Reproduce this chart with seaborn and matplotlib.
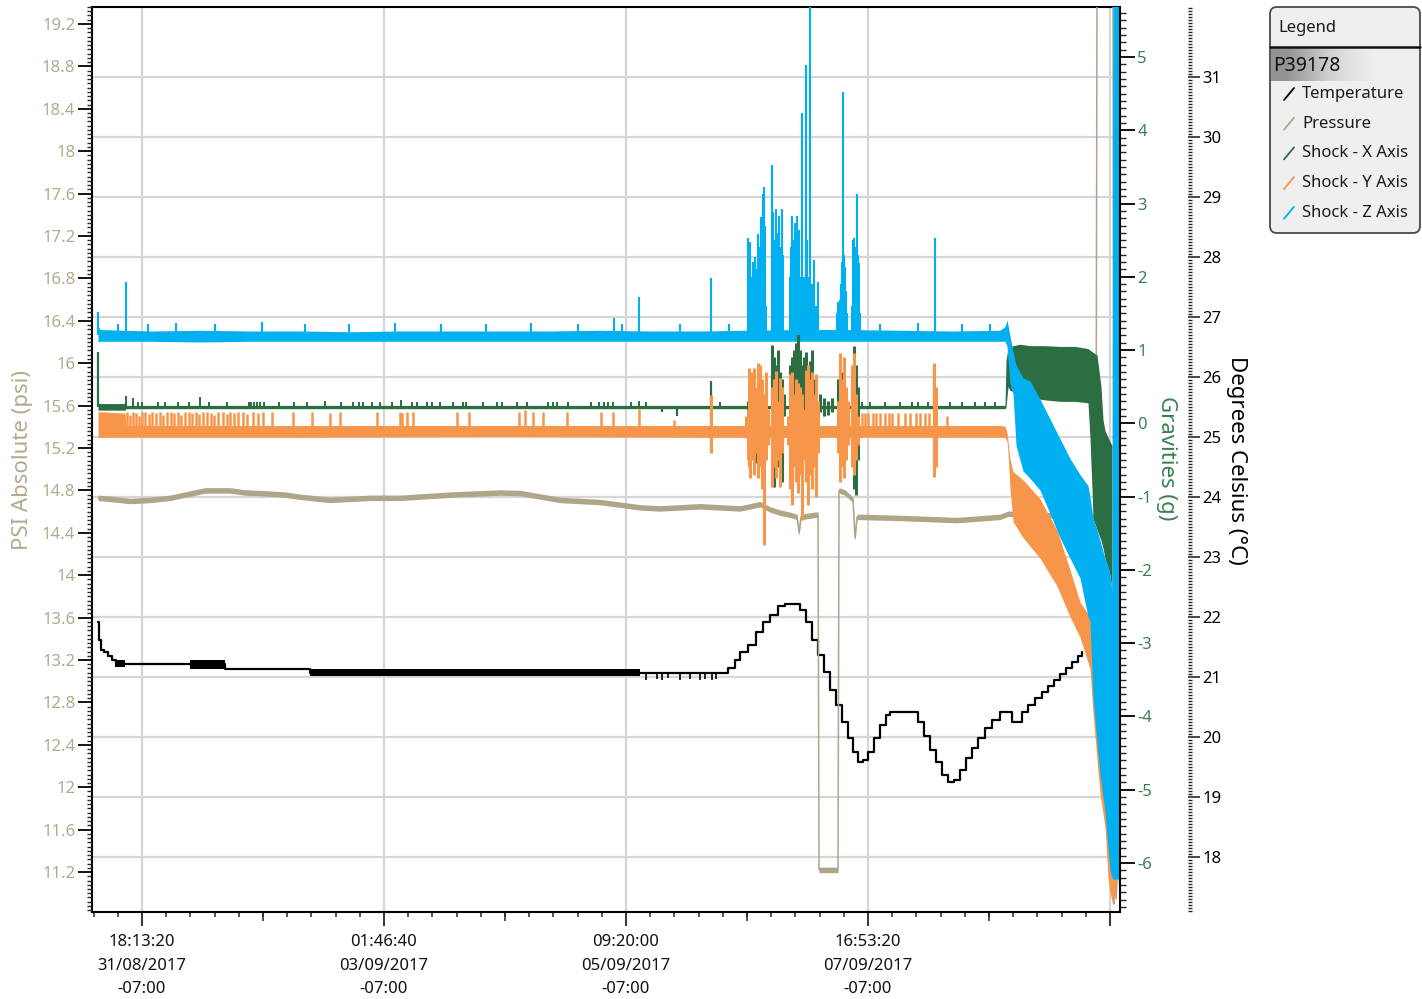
import datetime as dt
import numpy as np
import matplotlib
matplotlib.use("Agg")
import matplotlib.pyplot as plt
import matplotlib.colors as mcolors
from matplotlib.patches import FancyBboxPatch
from matplotlib.ticker import FixedLocator, MultipleLocator, FormatStrFormatter
import seaborn as sns

sns.set_theme(style="ticks")
plt.rcParams["font.family"] = ["Noto Sans", "DejaVu Sans"]
plt.rcParams["axes.unicode_minus"] = False

# ------------------------------------------------------------------ data
# time axis: hours since 2017-08-31 18:13:20 (-07:00)
SERIES = ["Temperature", "Pressure", "Shock - X Axis", "Shock - Y Axis", "Shock - Z Axis"]
COLORS = ["#000000", "#afa588", "#2a6e42", "#f7964a", "#00b0f0"]
LOGGER = "P39178"

# Temperature (deg C)
temp_t = [-10.10, -9.87, -9.41, -8.72, -7.81, -6.89, -5.97, 19.06, 38.57, 132.71, 134.55,
          136.15, 137.30, 139.14, 140.98, 142.58, 144.19, 146.02, 147.63, 149.93, 151.08,
          152.45, 153.83, 155.21, 156.59, 157.96, 159.34, 160.72, 162.10, 163.24, 164.39,
          165.54, 166.69, 168.07, 169.43, 170.81, 171.73, 176.78, 178.16, 179.54, 180.92,
          182.30, 183.67, 185.05, 186.43, 187.81, 189.19, 190.57, 191.95, 193.55, 195.16,
          196.99, 198.37, 199.75, 201.13, 202.04, 203.42, 205.03, 206.63, 208.01, 209.39,
          210.76, 212.14, 213.52, 214.90, 215.82]
temp_c = [21.92, 21.62, 21.45, 21.42, 21.35, 21.28, 21.22, 21.13, 21.07, 21.07, 21.15,
          21.28, 21.42, 21.53, 21.75, 21.92, 22.03, 22.18, 22.22, 22.22, 22.12,
          21.92, 21.62, 21.37, 21.08, 20.78, 20.53, 20.25, 19.98, 19.75, 19.58,
          19.62, 19.75, 19.98, 20.20, 20.37, 20.42, 20.42, 20.25, 20.02, 19.78,
          19.58, 19.37, 19.25, 19.28, 19.45, 19.65, 19.82, 19.98, 20.15, 20.28,
          20.42, 20.42, 20.25, 20.25, 20.42, 20.53, 20.65, 20.75, 20.85, 20.95,
          21.05, 21.15, 21.25, 21.35, 21.42]
temp_noise_t0 = [-6.20, 11.02, 38.57]
temp_noise_t1 = [-3.90, 19.06, 114.34]
temp_noise_lo = [21.16, 21.13, 21.01]
temp_noise_hi = [21.29, 21.28, 21.13]
temp_tick_t = [115.72, 118.24, 119.39, 120.77, 123.52, 125.82, 128.12, 129.26, 130.87, 131.79]
temp_tick_lo = [20.95, 20.97, 20.95, 20.98, 20.95, 20.96, 20.95, 20.97, 20.95, 20.96]

# Pressure (psi)
pres_t = [-10.10, -7.35, -2.75, 1.84, 6.43, 11.02, 14.46, 20.20, 23.65, 27.09, 32.83,
          36.28, 43.16, 52.35, 59.24, 70.72, 82.20, 86.79, 95.97, 105.16, 114.34,
          118.93, 128.12, 137.30, 141.89, 144.19, 146.48, 148.78, 150.39, 150.85, 151.31,
          154.52, 155.21, 155.44, 159.80, 160.03, 161.41, 163.24, 163.70, 164.16, 164.85,
          174.02, 187.12, 196.99, 198.83, 219.03, 219.26, 222.93, 223.16, 223.39, 223.62,
          224.08, 224.54]
pres_v = [14.73, 14.72, 14.70, 14.71, 14.73, 14.77, 14.80, 14.80, 14.78, 14.775, 14.76,
          14.74, 14.71, 14.73, 14.73, 14.76, 14.78, 14.775, 14.71, 14.69, 14.64,
          14.63, 14.65, 14.63, 14.67, 14.62, 14.59, 14.57, 14.55, 14.40, 14.55,
          14.57, 14.57, 11.22, 11.22, 14.80, 14.78, 14.71, 14.35, 14.55, 14.55,
          14.54, 14.52, 14.55, 14.58, 14.55, 19.60, 19.60, 10.90, 11.25, 10.95,
          11.30, 11.05]
PRES_NOISE = 0.026

# Shock - X Axis (g)
gx_band_t = [-10.10, -3.90, -3.67, 198.14, 198.37, 198.83, 199.29, 201.58, 203.88, 207.32,
             210.76, 214.21, 217.19, 217.65, 218.11, 218.34, 219.26, 220.18, 220.64, 221.10,
             222.25, 222.70]
gx_band_lo = [0.18, 0.18, 0.20, 0.20, 0.22, 0.50, 0.45, 0.40, 0.35, 0.32,
              0.30, 0.30, 0.28, -0.20, -0.90, -1.30, -1.45, -1.60, -1.70, -1.84,
              -2.07, -2.29]
gx_band_hi = [0.27, 0.27, 0.245, 0.245, 0.86, 1.03, 1.05, 1.08, 1.06, 1.06,
              1.05, 1.05, 1.02, 1.00, 0.98, 0.97, 0.93, 0.50, 0.05, -0.10,
              -0.25, -0.30]
GX_BASE = 0.22
gx_tick_t = [-3.67, -2.07, -0.92, 0.00, 3.67, 5.28, 8.26, 10.79, 13.32, 15.38, 19.51, 24.57,
             25.02, 25.71, 26.40, 27.09, 28.01, 31.45, 34.90, 37.88, 42.02, 45.69, 48.45,
             49.83, 50.74, 52.81, 54.64, 57.40, 59.46, 61.99, 63.14, 65.44, 66.58, 68.42,
             71.41, 73.70, 74.39, 78.29, 81.51, 82.66, 86.10, 88.40, 93.22, 94.37, 95.28,
             97.81, 103.09, 104.93, 106.08, 106.99, 108.14, 112.27, 114.11, 115.72, 132.71,
             165.31, 167.15, 170.58, 174.02, 176.78, 178.16, 180.46, 185.51, 188.27, 191.26,
             193.55, 195.85]
gx_tick_hi = [0.37, 0.35, 0.29, 0.29, 0.29, 0.29, 0.29, 0.29, 0.36, 0.29, 0.29, 0.29,
              0.29, 0.29, 0.29, 0.29, 0.29, 0.29, 0.29, 0.29, 0.30, 0.29, 0.29,
              0.29, 0.29, 0.29, 0.29, 0.29, 0.32, 0.29, 0.29, 0.29, 0.29, 0.29,
              0.29, 0.29, 0.29, 0.29, 0.29, 0.29, 0.29, 0.29, 0.29, 0.29, 0.29,
              0.29, 0.29, 0.29, 0.29, 0.29, 0.29, 0.29, 0.30, 0.29, 0.29,
              0.29, 0.29, 0.29, 0.29, 0.29, 0.29, 0.29, 0.29, 0.29, 0.29,
              0.29, 0.29]
gx_event_t = [-10.10, 119.39, 122.84, 130.64, 181.84]
gx_event_lo = [0.22, 0.16, 0.10, -0.40, 0.15]
gx_event_hi = [0.97, 0.22, 0.22, 0.58, 0.73]
gx_act_t = [139.14, 139.60, 140.06, 140.52, 140.98, 141.44, 141.89, 142.35, 142.81, 143.27,
            144.65, 145.11, 145.57, 146.02, 146.48, 146.94, 147.40, 148.78, 149.24, 149.70,
            150.16, 150.62, 151.08, 151.54, 151.99, 152.45, 152.91, 153.37, 153.83, 154.29,
            154.75, 155.67, 156.59, 157.50, 158.42, 159.80, 160.26, 160.72, 161.18, 161.64,
            163.01, 163.47, 163.93, 164.39]
gx_act_lo = [-0.30, -0.54, -0.30, -0.10, -0.54, -0.40, -0.30, -0.50, -0.20, -0.10,
             -0.30, -0.87, -0.70, -0.60, -0.40, -0.80, 0.10, -0.50, -0.77, -0.40,
             -0.60, -0.77, -0.50, -0.70, -0.30, -0.75, -0.60, -0.40, -0.50, -0.30,
             0.00, 0.15, 0.10, 0.12, 0.15, -0.20, -0.40, -0.20, -0.40, 0.00,
             -0.30, -0.90, -0.98, -0.50]
gx_act_hi = [0.30, 0.20, 0.30, 0.25, 0.40, 0.30, 0.20, 0.30, 0.20, 0.35,
             1.07, 0.90, 0.80, 1.00, 0.70, 0.60, 0.40, 0.80, 0.90, 1.00,
             1.10, 1.25, 1.00, 0.80, 0.90, 0.97, 0.70, 0.85, 1.00, 0.60,
             0.40, 0.40, 0.35, 0.30, 0.35, 0.60, 0.86, 0.70, 0.50, 0.30,
             0.60, 1.05, 0.80, 0.50]

# Shock - Y Axis (g)
gy_band_t = [-10.10, -3.90, -3.67, 36.28, 82.20, 128.12, 138.45, 164.85, 196.99, 198.14,
             198.60, 198.83, 199.29, 199.98, 202.27, 206.17, 210.08, 213.06, 215.36, 217.65,
             218.34, 219.26, 219.95, 221.10, 221.79, 222.25, 222.93, 223.62, 224.08]
gy_band_lo = [-0.19, -0.19, -0.19, -0.19, -0.18, -0.19, -0.19, -0.19, -0.19, -0.19,
              -0.25, -0.40, -0.90, -1.34, -1.56, -1.84, -2.22, -2.64, -2.92, -3.35,
              -3.95, -4.59, -5.05, -5.51, -6.19, -6.41, -6.57, -6.30, -6.00]
gy_band_hi = [0.16, 0.14, -0.03, -0.03, -0.03, -0.03, -0.03, -0.03, -0.03, -0.04,
              -0.13, -0.25, -0.49, -0.66, -0.77, -1.03, -1.46, -2.00, -2.44, -2.64,
              -3.20, -3.70, -4.00, -4.60, -5.00, -5.30, -6.00, -6.10, -5.90]
gy_dense_t = [-3.44, -2.75, -2.07, -1.38, -0.69, 0.00, 0.69, 1.61, 2.30, 3.21, 4.13, 4.82,
              5.74, 6.66, 7.35, 8.26, 8.95, 9.87, 10.79, 11.48, 12.40, 13.09, 14.00, 14.92,
              15.84, 16.53, 17.45, 18.60, 19.51, 20.20, 21.12, 22.04, 23.19, 24.11, 25.48,
              26.63, 27.78, 29.85, 34.67, 39.03, 43.16, 45.46, 53.96, 59.24, 59.70, 60.84,
              62.22, 72.32, 75.08, 86.56, 87.94, 89.77, 92.07, 97.58, 105.39, 108.14,
              114.11, 122.15, 165.31, 166.00, 166.69, 167.84, 168.51, 169.43, 170.58,
              171.50, 172.19, 173.56, 175.17, 176.32, 177.70, 178.62, 179.77, 180.69, 184.82]
gy_dense_hi = [0.15, 0.12, 0.16, 0.14, 0.10, 0.15, 0.16, 0.13, 0.15, 0.14, 0.16, 0.12,
               0.15, 0.16, 0.14, 0.15, 0.11, 0.16, 0.15, 0.14, 0.16, 0.13, 0.15, 0.16,
               0.14, 0.12, 0.15, 0.16, 0.13, 0.15, 0.14, 0.16, 0.15, 0.13, 0.16,
               0.14, 0.15, 0.15, 0.16, 0.15, 0.14, 0.15, 0.15, 0.16, 0.14, 0.15,
               0.15, 0.15, 0.15, 0.15, 0.18, 0.15, 0.15, 0.15, 0.15, 0.15,
               0.20, 0.05, 0.14, 0.14, 0.14, 0.14, 0.14, 0.14, 0.14,
               0.14, 0.14, 0.14, 0.14, 0.14, 0.14, 0.14, 0.14, 0.14, 0.10]
GY_BASE = -0.12
gy_act_t = [130.64, 138.68, 139.14, 139.37, 139.60, 140.06, 140.52, 140.98, 141.44, 141.89,
            142.35, 142.81, 143.27, 143.73, 144.65, 145.11, 145.57, 146.02, 146.48, 146.94,
            148.32, 148.78, 149.24, 149.70, 150.16, 150.62, 151.08, 151.54, 151.99, 152.45,
            152.91, 153.37, 153.83, 154.29, 154.75, 155.21, 159.80, 160.26, 160.72, 161.18,
            161.64, 162.10, 163.01, 163.47, 163.93, 164.39, 181.84, 182.30]
gy_act_lo = [-0.40, -0.20, -0.50, -0.60, -0.75, -0.50, -0.70, -0.40, -0.75, -0.60,
             -0.90, -1.66, -0.50, -0.30, -0.87, -0.60, -0.75, -0.50, -0.87, -0.40,
             -0.30, -0.90, -1.11, -0.60, -0.80, -0.95, -0.70, -1.32, -0.50, -0.80,
             -1.11, -0.70, -0.90, -0.60, -1.00, -0.40, -0.40, -0.80, -0.60, -0.75,
             -0.50, -0.30, -0.60, -0.70, -0.50, -0.30, -0.73, -0.60]
gy_act_hi = [0.38, 0.10, 0.20, 0.75, 0.60, 0.70, 0.75, 0.50, 0.82, 0.80,
             0.60, 0.40, 0.70, 0.20, 0.50, 0.60, 0.72, 0.30, 0.62, 0.50,
             0.10, 0.68, 0.70, 0.40, 0.60, 0.55, 0.50, 0.40, 0.20, 0.73,
             0.80, 0.60, 0.70, 0.40, 0.68, 0.30, 0.30, 0.96, 0.60, 0.90,
             0.50, 0.30, 0.80, 0.96, 0.40, 0.10, 0.82, 0.50]

# Shock - Z Axis (g)
gz_band_t = [-10.10, -9.64, -3.90, 1.84, 13.32, 24.80, 36.28, 47.76, 59.24, 70.72, 82.20,
             93.67, 105.16, 116.64, 128.12, 138.45, 151.08, 162.56, 174.02, 185.51, 196.99,
             198.14, 198.60, 199.29, 199.98, 200.67, 202.27, 203.88, 206.17, 208.47, 210.76,
             213.06, 215.36, 217.19, 217.65, 218.11, 218.34, 219.26, 219.95, 221.10, 221.79,
             222.25, 222.70, 222.93, 224.54]
gz_band_lo = [1.11, 1.12, 1.12, 1.12, 1.11, 1.12, 1.12, 1.12, 1.12, 1.12, 1.12,
              1.12, 1.12, 1.12, 1.12, 1.12, 1.12, 1.12, 1.12, 1.12, 1.12,
              1.12, 1.05, 0.55, 0.40, -0.30, -0.65, -0.75, -0.91, -1.23, -1.56,
              -1.84, -2.11, -2.64, -2.70, -3.40, -3.75, -4.35, -4.80, -5.30, -5.80,
              -6.10, -6.20, -6.22, -6.22]
gz_band_hi = [1.33, 1.28, 1.27, 1.26, 1.27, 1.26, 1.26, 1.25, 1.26, 1.26, 1.26,
              1.26, 1.27, 1.26, 1.26, 1.27, 1.28, 1.28, 1.27, 1.26, 1.27,
              1.32, 1.41, 1.19, 0.98, 0.80, 0.62, 0.58, 0.33, 0.06, -0.21,
              -0.48, -0.70, -0.85, -1.00, -1.20, -1.30, -1.45, -1.60, -1.84, -1.95,
              -2.07, -2.29, 6.00, 6.00]
GZ_BASE = 1.20
gz_spike_t = [-10.10, -5.51, -3.67, 1.38, 7.81, 16.76, 27.55, 37.42, 47.52, 58.08, 68.64,
              78.97, 89.30, 100.09, 108.37, 110.19, 114.11, 123.51, 130.64, 134.84,
              139.14, 139.37, 139.60, 139.83, 140.06, 140.29, 140.52, 140.75, 140.98, 141.21,
              141.44, 141.66, 141.89, 142.12, 142.35, 142.58, 142.81, 143.04, 143.27,
              144.65, 144.88, 145.11, 145.34, 145.57, 145.80, 146.02, 146.25, 146.48, 146.71,
              146.94, 147.17, 148.78, 149.01, 149.24, 149.47, 149.70, 149.93, 150.16, 150.39,
              150.62, 150.85, 151.08, 151.31, 151.54, 151.77, 151.99, 152.45, 152.68, 152.91,
              153.37, 153.60, 153.83, 154.29, 154.75, 155.21, 159.57, 159.80, 160.26, 160.49,
              160.72, 160.95, 161.18, 161.41, 161.64, 161.87, 163.01, 163.24, 163.47, 163.70,
              163.93, 164.16, 164.39, 164.62, 164.85, 169.43, 178.16, 182.07, 188.27, 194.69]
gz_spike_hi = [1.52, 1.36, 1.93, 1.35, 1.37, 1.35, 1.38, 1.36, 1.35, 1.37, 1.36,
               1.35, 1.37, 1.36, 1.44, 1.35, 1.72, 1.36, 1.98, 1.35,
               2.53, 2.00, 2.48, 1.80, 2.00, 2.20, 1.90, 2.27, 2.10, 1.80,
               2.58, 2.10, 2.40, 2.82, 2.50, 3.13, 3.23, 2.70, 1.60,
               3.53, 2.88, 2.50, 2.30, 2.93, 2.00, 2.60, 2.83, 2.40, 2.20,
               2.93, 2.30, 2.00, 2.40, 2.83, 2.50, 2.20, 2.73, 2.40, 2.83,
               2.30, 2.64, 2.00, 1.90, 4.24, 1.80, 2.00, 4.89, 2.50, 2.00,
               5.90, 1.60, 1.90, 2.23, 1.60, 1.93, 1.50, 1.65, 1.68, 1.90,
               2.20, 4.52, 2.30, 2.13, 1.80, 1.50, 1.60, 2.50, 2.53, 2.40,
               2.20, 3.13, 2.30, 2.19, 1.50, 1.36, 1.37, 2.53, 1.36, 1.35]

# ------------------------------------------------------------------ layout
W, H = 1422, 999
L, R, T, B = 92, 1120, 7, 912
fig = plt.figure(figsize=(W / 100, H / 100), dpi=100)
host = fig.add_axes([L / W, 1 - B / H, (R - L) / W, (B - T) / H])
axP = host.twinx()
axG = host.twinx()

PSI_C = "#b3a98c"
G_C = "#3a8052"
GRID_C = "#d6d6d6"

host.set_xlim(-11.48, 224.54)
host.set_ylim(17.083, 32.167)
axP.set_ylim(10.823, 19.360)
axG.set_ylim(-6.669, 5.682)

host.set_axisbelow(True)
host.grid(True, which="major", axis="both", color=GRID_C, lw=1.6)

# ------------------------------------------------------------------ marks
# temperature
sns.lineplot(x=temp_t, y=temp_c, ax=host, color=COLORS[0], lw=1.6,
             drawstyle="steps-post", estimator=None, sort=False)
for t0, t1, lo, hi in zip(temp_noise_t0, temp_noise_t1, temp_noise_lo, temp_noise_hi):
    host.fill_between([t0, t1], [lo, lo], [hi, hi], color=COLORS[0], lw=0)
host.vlines(temp_tick_t, temp_tick_lo, [21.07] * len(temp_tick_t), color=COLORS[0], lw=1.2)

# pressure
pv = np.array(pres_v)
axP.fill_between(pres_t, pv - PRES_NOISE, pv + PRES_NOISE, color=COLORS[1], lw=0)
sns.lineplot(x=pres_t, y=pres_v, ax=axP, color=COLORS[1], lw=1.1, estimator=None, sort=False)

# shock X
axG.fill_between(gx_band_t, gx_band_lo, gx_band_hi, color=COLORS[2], lw=0)
axG.vlines(gx_tick_t, [GX_BASE] * len(gx_tick_t), gx_tick_hi, color=COLORS[2], lw=1.4)
axG.vlines(gx_event_t, gx_event_lo, gx_event_hi, color=COLORS[2], lw=1.6)
axG.vlines(gx_act_t, gx_act_lo, gx_act_hi, color=COLORS[2], lw=2.2)

# shock Y
axG.fill_between(gy_band_t, gy_band_lo, gy_band_hi, color=COLORS[3], lw=0)
axG.vlines(gy_dense_t, [GY_BASE] * len(gy_dense_t), gy_dense_hi, color=COLORS[3], lw=1.8)
axG.vlines(gy_act_t, gy_act_lo, gy_act_hi, color=COLORS[3], lw=2.2)

# shock Z
axG.fill_between(gz_band_t, gz_band_lo, gz_band_hi, color=COLORS[4], lw=0)
axG.vlines(gz_spike_t, [GZ_BASE] * len(gz_spike_t), gz_spike_hi, color=COLORS[4], lw=1.5)

# ------------------------------------------------------------------ axes styling
BASE_TIME = dt.datetime(2017, 8, 31, 18, 13, 20)
STEP_H = 200000 / 3600.0
major_t = [i * STEP_H for i in range(5)]
major_lbl = [(BASE_TIME + dt.timedelta(hours=h)).strftime("%H:%M:%S\n%d/%m/%Y\n-07:00")
             for h in major_t[:4]] + [""]
minor_t = [k * STEP_H / 10 for k in range(-2, 41)]
mid_t = [STEP_H / 2 + i * STEP_H for i in range(4)]

host.set_xticks(major_t)
host.set_xticklabels(major_lbl)
host.xaxis.set_minor_locator(FixedLocator(minor_t))
host.tick_params(axis="x", which="major", direction="out", length=10, width=1.3,
                 labelsize=12, labelcolor="#111111", pad=6, bottom=True, top=False)
host.tick_params(axis="x", which="minor", direction="out", length=3.6, width=1.1,
                 bottom=True, top=False)
for lab in host.get_xticklabels():
    lab.set_linespacing(1.62)
sec = host.secondary_xaxis("bottom")
sec.set_xticks(mid_t)
sec.set_xticklabels([""] * len(mid_t))
sec.tick_params(axis="x", direction="out", length=6.5, width=1.1)
sec.spines["bottom"].set_visible(False)

# Celsius axis (host, far right)
host.yaxis.tick_right()
host.yaxis.set_label_position("right")
host.spines["right"].set_position(("axes", (1188 - L) / (R - L)))
host.spines["right"].set_color("none")
for s in ["left", "top", "bottom"]:
    host.spines[s].set_color("black")
    host.spines[s].set_linewidth(1.5)
host.set_yticks(list(range(18, 32)))
host.set_yticklabels([str(v) for v in range(18, 32)])
host.yaxis.set_minor_locator(MultipleLocator(0.05))
host.tick_params(axis="y", which="major", direction="out", length=8.5, width=1.2,
                 labelsize=12, labelcolor="black", pad=2, right=True, left=False)
host.tick_params(axis="y", which="minor", direction="out", length=3, width=1.0,
                 right=True, left=False)
host.set_ylabel("Degrees Celsius (°C)", fontsize=16, color="black", rotation=270)
host.yaxis.set_label_coords((1236 - L) / (R - L), 1 - (460 - T) / (B - T))
host.yaxis.label.set(va="center", ha="center", rotation_mode="default")

# PSI axis (left)
axP.yaxis.tick_left()
axP.yaxis.set_label_position("left")
for s in axP.spines.values():
    s.set_visible(False)
axP.set_yticks([round(11.2 + 0.4 * i, 1) for i in range(21)])
axP.yaxis.set_major_formatter(FormatStrFormatter("%g"))
axP.yaxis.set_minor_locator(MultipleLocator(0.04))
axP.tick_params(axis="y", which="major", direction="out", length=10, width=1.3,
                labelsize=12, labelcolor=PSI_C, color="black", pad=2, left=True, right=False)
axP.tick_params(axis="y", which="minor", direction="out", length=3.6, width=1.0,
                left=True, right=False)
axP.set_ylabel("PSI Absolute (psi)", fontsize=16, color=PSI_C)
axP.yaxis.set_label_coords((22 - L) / (R - L), 1 - (460 - T) / (B - T))
axP.yaxis.label.set(va="center", ha="center", rotation_mode="default")

# Gravities axis (plot right edge)
for s in ["left", "top", "bottom"]:
    axG.spines[s].set_visible(False)
axG.spines["right"].set_color("black")
axG.spines["right"].set_linewidth(1.5)
axG.set_yticks(list(range(-6, 6)))
axG.yaxis.set_minor_locator(MultipleLocator(0.1))
axG.tick_params(axis="y", which="major", direction="out", length=11, width=1.3,
                labelsize=12, labelcolor=G_C, color="black", pad=1.5)
axG.tick_params(axis="y", which="minor", direction="out", length=4.5, width=1.0)
axG.set_ylabel("Gravities (g)", fontsize=16, color=G_C, rotation=270)
axG.yaxis.set_label_coords((1167 - L) / (R - L), 1 - (458 - T) / (B - T))
axG.yaxis.label.set(va="center", ha="center", rotation_mode="default")

# ------------------------------------------------------------------ legend panel
lax = fig.add_axes([0, 0, 1, 1], zorder=20)
lax.axis("off")
box = FancyBboxPatch((1270, 7), 150, 226, boxstyle="round,pad=0,rounding_size=7",
                     fc="#efefef", ec="#4a4a4a", lw=1.3, zorder=1)
lax.add_patch(box)
grad = mcolors.LinearSegmentedColormap.from_list("g", ["#939393", "#cdcdcd", "#efefef"])
lax.imshow([[0.0, 0.35, 0.75, 1.0, 1.0]], extent=(1271, 1419, 81, 47), cmap=grad,
           aspect="auto", interpolation="bilinear", zorder=2)
lax.plot([1270, 1420], [46.5, 46.5], color="#111111", lw=1.8, zorder=3)
lax.text(1278, 28, "Legend", fontsize=12, va="center", ha="left", color="#1a1a1a", zorder=4)
lax.text(1273, 66, LOGGER, fontsize=14, va="center", ha="left", color="#111111", zorder=4)
for i, (name, col) in enumerate(zip(SERIES, COLORS)):
    yc = 94 + i * 29.7
    lax.plot([1284, 1294], [yc + 6, yc - 6], color=col, lw=1.3, zorder=4)
    lax.text(1302, yc, name, fontsize=12, va="center", ha="left", color="#1a1a1a", zorder=4)
lax.set_xlim(0, W)
lax.set_ylim(H, 0)

fig.savefig("out.png", dpi=100)
